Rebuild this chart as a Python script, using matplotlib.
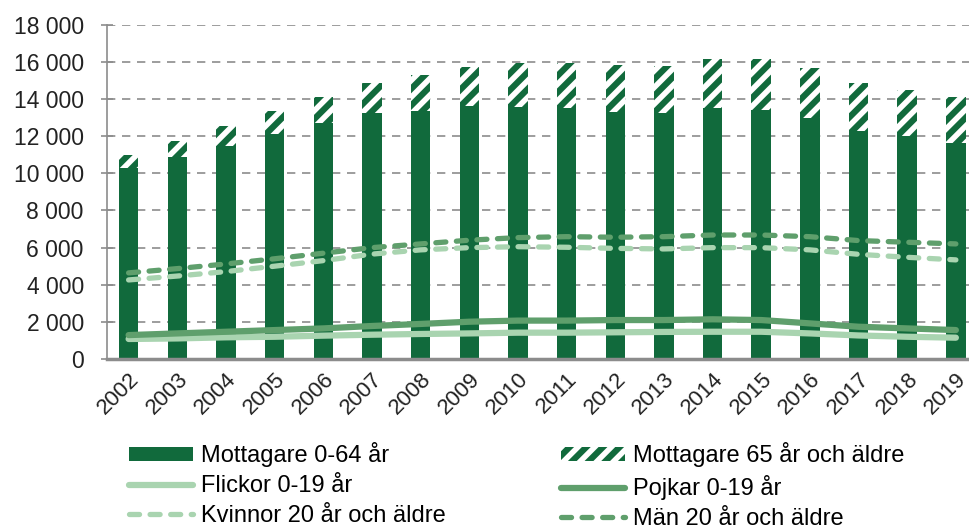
import numpy as np
import matplotlib
matplotlib.use("Agg")
import matplotlib.pyplot as plt
from matplotlib.ticker import FuncFormatter

plt.rcParams['font.family'] = ['Liberation Sans', 'DejaVu Sans']
plt.rcParams['hatch.linewidth'] = 4.5

years = [str(y) for y in range(2002, 2020)]

# mottagare (staplar)
mott_0_64 = [10300, 10890, 11480, 12130, 12720, 13260, 13370, 13640, 13580,
             13530, 13310, 13260, 13530, 13420, 12990, 12290, 12020, 11640]
mott_65 = [700, 860, 1080, 1240, 1400, 1620, 1940, 2100, 2380,
           2430, 2540, 2540, 2640, 2750, 2700, 2590, 2480, 2480]

# linjer
flickor = [1080, 1110, 1170, 1200, 1260, 1310, 1350, 1380, 1420,
           1420, 1440, 1460, 1470, 1470, 1380, 1270, 1200, 1150]
pojkar = [1290, 1380, 1470, 1560, 1650, 1780, 1890, 2010, 2070,
          2070, 2100, 2100, 2140, 2100, 1920, 1740, 1650, 1560]
kvinnor = [4260, 4470, 4710, 5000, 5300, 5650, 5880, 6000, 6050,
           6020, 5960, 5930, 6000, 6000, 5880, 5640, 5480, 5340]
man = [4640, 4870, 5120, 5400, 5700, 6000, 6200, 6400, 6540,
       6590, 6560, 6590, 6680, 6680, 6590, 6380, 6290, 6200]

dark = '#116a3c'
mid = '#5f9f6c'
light = '#a9d4b0'
grey = '#8c8c8c'

fig = plt.figure(figsize=(9.7, 5.28), dpi=100)
ax = fig.add_axes([0.110, 0.320, 0.893, 0.633])

x = np.arange(len(years))
w = 0.4
b1 = ax.bar(x, mott_0_64, width=w, color=dark, linewidth=0, zorder=2,
            label='Mottagare 0-64 år')
b2 = ax.bar(x, mott_65, width=w, bottom=mott_0_64, facecolor='white',
            edgecolor=dark, linewidth=0, hatch='//', zorder=2,
            label='Mottagare 65 år och äldre')

l1, = ax.plot(x, flickor, color=light, lw=4.5, solid_capstyle='round', zorder=3,
              label='Flickor 0-19 år')
l2, = ax.plot(x, pojkar, color=mid, lw=4.5, solid_capstyle='round', zorder=3,
              label='Pojkar 0-19 år')
l3, = ax.plot(x, kvinnor, color=light, lw=3.8, dashes=(1.9, 2.0),
              dash_capstyle='round', zorder=3, label='Kvinnor 20 år och äldre')
l4, = ax.plot(x, man, color=mid, lw=3.8, dashes=(1.9, 2.0),
              dash_capstyle='round', zorder=3, label='Män 20 år och äldre')

ax.set_ylim(0, 18000)
ax.set_yticks(range(0, 18001, 2000))
ax.yaxis.set_major_formatter(FuncFormatter(lambda v, p: f'{int(v):,}'.replace(',', ' ')))
ax.set_xlim(-0.45, 17.35)
ax.set_xticks(x)
ax.set_xticklabels(years, rotation=45, ha='right', rotation_mode='anchor')
ax.tick_params(axis='x', length=0, labelsize=16, colors='#222222', pad=7)
ax.tick_params(axis='y', direction='inout', length=9, width=1.2, color=grey,
               labelsize=16.5, labelcolor='#222222', pad=12)

ax.grid(axis='y', color=grey, lw=1.2, dashes=(5, 4), zorder=0)
ax.set_axisbelow(True)
for s in ['top', 'right']:
    ax.spines[s].set_visible(False)
ax.spines['left'].set_color(grey)
ax.spines['left'].set_linewidth(1.2)
ax.spines['bottom'].set_color(grey)
ax.spines['bottom'].set_linewidth(2.5)

fig.legend([b1, l1, l3, b2, l2, l4],
           [b1.get_label(), l1.get_label(), l3.get_label(),
            b2.get_label(), l2.get_label(), l4.get_label()],
           ncol=2, loc='upper left', bbox_to_anchor=(0.133, 0.162),
           frameon=False, fontsize=17, handlelength=2.7, handleheight=0.55,
           handletextpad=0.35, columnspacing=4.9, labelspacing=0.33,
           borderpad=0, borderaxespad=0)

fig.savefig('out.png', dpi=100)
